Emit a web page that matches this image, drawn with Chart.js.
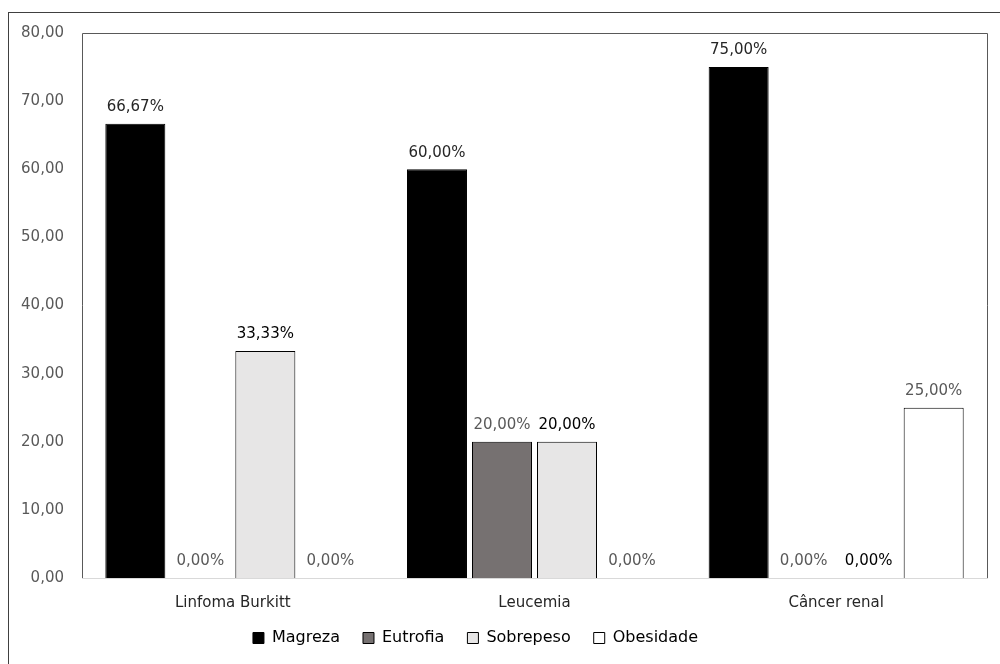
<!DOCTYPE html>
<html>
<head>
<meta charset="utf-8">
<script src="https://cdn.jsdelivr.net/npm/chart.js@4.4.1/dist/chart.umd.min.js"></script>
<style>
    html, body { margin: 0; padding: 0; background: #fff; overflow: hidden; }
    .frame {
        position: absolute; left: 8px; top: 12px;
        width: 1100px; height: 800px;
        border: 1px solid #404040;
    }
    .chart-box { position: absolute; left: 0; top: 0; width: 1000px; height: 664px; }
</style>
</head>
<body>
<div class="frame"></div>
<div class="chart-box"><canvas id="nutriChart"></canvas></div>
<script>
// Chart data
const categories = ['Linfoma Burkitt', 'Leucemia', 'Câncer renal'];
const magreza = [66.67, 60.00, 75.00];
const eutrofia = [0.00, 20.00, 0.00];
const sobrepeso = [33.33, 20.00, 0.00];
const obesidade = [0.00, 0.00, 25.00];
const yTicks = [0, 10, 20, 30, 40, 50, 60, 70, 80];

const FONT = '"DejaVu Sans", sans-serif';

function fmt(v, suffix) {
    return v.toFixed(2).replace('.', ',') + (suffix || '');
}

// Draws the value labels above each bar
const barLabels = {
    id: 'barLabels',
    afterDatasetsDraw(chart) {
        const ctx = chart.ctx;
        ctx.save();
        ctx.font = '15px ' + FONT;
        ctx.textAlign = 'center';
        ctx.textBaseline = 'bottom';
        chart.data.datasets.forEach((ds, i) => {
            const meta = chart.getDatasetMeta(i);
            meta.data.forEach((bar, j) => {
                ctx.fillStyle = ds.labelColor;
                ctx.fillText(fmt(ds.data[j], '%'), bar.x, bar.y - 9);
            });
        });
        ctx.restore();
    }
};

// Plot area border (top and right; left/bottom are the axis borders)
const plotBorder = {
    id: 'plotBorder',
    afterLayout(chart) {
        // legend in the original sits a bit left of the centre
        if (chart.legend) {
            chart.legend.left -= 18;
            chart.legend.right -= 18;
        }
    },
    beforeDatasetsDraw(chart) {
        const a = chart.chartArea;
        const ctx = chart.ctx;
        ctx.save();
        ctx.strokeStyle = '#595959';
        ctx.lineWidth = 1;
        ctx.beginPath();
        ctx.moveTo(a.left + 0.5, a.bottom);
        ctx.lineTo(a.left + 0.5, a.top + 0.5);
        ctx.lineTo(a.right + 0.5, a.top + 0.5);
        ctx.lineTo(a.right + 0.5, a.bottom);
        ctx.stroke();
        ctx.restore();
    }
};

function initNutriChart() {
    const ctx = document.getElementById('nutriChart');
    if (!ctx) return;
    new Chart(ctx.getContext('2d'), {
        type: 'bar',
        data: {
            labels: categories,
            datasets: [
                { label: 'Magreza', data: magreza, backgroundColor: '#000000', borderColor: '#000000', labelColor: '#262626' },
                { label: 'Eutrofia', data: eutrofia, backgroundColor: '#767171', borderColor: '#000000', labelColor: '#595959' },
                { label: 'Sobrepeso', data: sobrepeso, backgroundColor: '#e7e6e6', borderColor: '#000000', labelColor: '#000000' },
                { label: 'Obesidade', data: obesidade, backgroundColor: '#ffffff', borderColor: '#000000', labelColor: '#595959' }
            ].map(ds => Object.assign(ds, {
                borderWidth: 1,
                borderSkipped: 'bottom',
                categoryPercentage: 0.862,
                barPercentage: 0.923
            }))
        },
        options: {
            responsive: true,
            maintainAspectRatio: false,
            animation: false,
            layout: {
                padding: { top: 33, right: 13, left: 0, bottom: 8 }
            },
            plugins: {
                legend: {
                    position: 'bottom',
                    labels: {
                        boxWidth: 11,
                        boxHeight: 11,
                        padding: 23,
                        color: '#000000',
                        font: { family: FONT, size: 16 }
                    }
                },
                tooltip: { enabled: false }
            },
            scales: {
                x: {
                    grid: { display: false, drawTicks: false },
                    border: { display: true, color: '#d9d9d9' },
                    ticks: {
                        padding: 16,
                        color: '#262626',
                        font: { family: FONT, size: 15 }
                    },
                    afterFit(scale) { scale.height = 29; }
                },
                y: {
                    min: 0,
                    max: 80,
                    afterBuildTicks(scale) {
                        scale.ticks = yTicks.map(v => ({ value: v }));
                    },
                    grid: { display: false, drawTicks: false },
                    border: { display: false },
                    ticks: {
                        padding: 18,
                        color: '#595959',
                        font: { family: FONT, size: 15 },
                        callback: v => fmt(v)
                    },
                    afterFit(scale) { scale.width = 82; }
                }
            }
        },
        plugins: [barLabels, plotBorder]
    });
}

document.addEventListener('DOMContentLoaded', () => {
    initNutriChart();
});
</script>
</body>
</html>
